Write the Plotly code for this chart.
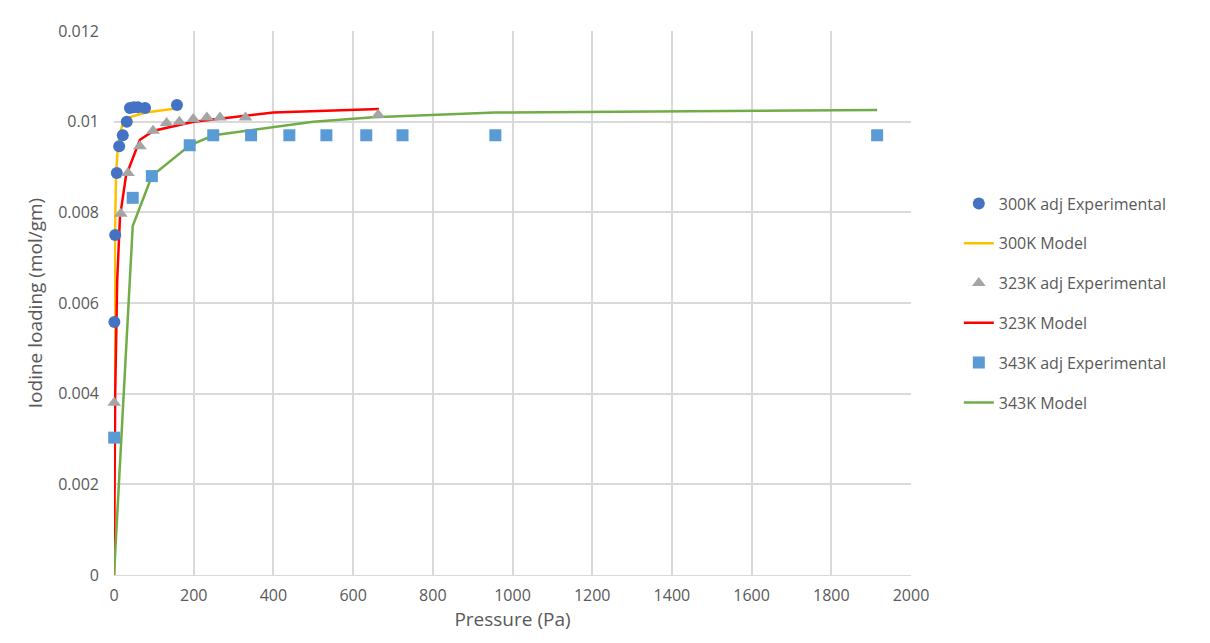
import plotly.graph_objects as go

# Experimental data and model curves
p300_exp = [1, 3, 7, 13, 22, 32, 40, 50, 60, 78, 158]
q300_exp = [0.00558, 0.0075, 0.00887, 0.00946, 0.0097, 0.0100, 0.0103, 0.01032, 0.01032, 0.0103, 0.01037]
p300_mod = [0, 2, 5, 10, 20, 40, 80, 165]
q300_mod = [0, 0.0072, 0.0088, 0.0095, 0.0099, 0.0101, 0.0102, 0.0103]

p323_exp = [0.5, 17, 35, 65, 98, 132, 164, 199, 233, 266, 330, 663]
q323_exp = [0.0038, 0.00797, 0.00887, 0.00946, 0.0098, 0.00997, 0.0100, 0.01006, 0.01009, 0.01009, 0.01009, 0.01015]
p323_mod = [0, 3, 8, 15, 30, 65, 100, 200, 400, 665]
q323_mod = [0, 0.004, 0.0065, 0.0079, 0.0088, 0.0096, 0.0098, 0.0100, 0.0102, 0.01028]

p343_exp = [0.5, 47, 95, 190, 249, 344, 440, 533, 633, 724, 957, 1915]
q343_exp = [0.00303, 0.00832, 0.0088, 0.00948, 0.0097, 0.0097, 0.0097, 0.0097, 0.0097, 0.0097, 0.0097, 0.0097]
p343_mod = [0, 47, 95, 190, 250, 500, 650, 957, 1915]
q343_mod = [0, 0.0077, 0.0088, 0.00948, 0.0097, 0.0100, 0.0101, 0.0102, 0.01026]

series = [
    ('300K Model', p300_mod, q300_mod, 'lines', '#FFC000', None, 1),
    ('323K Model', p323_mod, q323_mod, 'lines', '#FF0000', None, 3),
    ('343K Model', p343_mod, q343_mod, 'lines', '#70AD47', None, 5),
    ('300K adj Experimental', p300_exp, q300_exp, 'markers', '#4472C4', 'circle', 0),
    ('323K adj Experimental', p323_exp, q323_exp, 'markers', '#A5A5A5', 'triangle-up', 2),
    ('343K adj Experimental', p343_exp, q343_exp, 'markers', '#5B9BD5', 'square', 4),
]

fig = go.Figure()
for name, x, y, mode, color, symbol, rank in series:
    if mode == 'lines':
        fig.add_trace(go.Scatter(x=x, y=y, mode='lines', name=name, legendrank=rank,
                                 legendgroup=name, line=dict(color=color, width=2.5)))
    else:
        fig.add_trace(go.Scatter(x=x, y=y, mode='markers', name=name, legendrank=rank,
                                 legendgroup=name, cliponaxis=False,
                                 marker=dict(symbol=symbol, size=12, color=color)))

grid = '#D9D9D9'
fig.update_layout(
    width=1210, height=643,
    paper_bgcolor='white', plot_bgcolor='white',
    margin=dict(l=106, r=307, t=12, b=76),
    font=dict(family='Open Sans', size=16, color='#595959'),
    showlegend=True,
    legend=dict(x=1.06, y=0.5, yanchor='middle', traceorder='grouped',
                font=dict(size=16, color='#595959'), tracegroupgap=16),
    xaxis=dict(range=[0, 2000], dtick=200, showgrid=True, gridcolor=grid, gridwidth=1.5,
               zeroline=False, showline=True, linecolor=grid, ticklabelstandoff=6,
               title=dict(text='Pressure (Pa)', standoff=6), tickfont=dict(size=16)),
    yaxis=dict(range=[0, 0.012], dtick=0.002, showgrid=True, gridcolor=grid, gridwidth=1.5,
               zeroline=False, showline=False, tickformat='~g', ticklabelstandoff=14,
               title=dict(text='Iodine loading (mol/gm)', standoff=10), tickfont=dict(size=16)),
)
fig.write_html("out.html")
